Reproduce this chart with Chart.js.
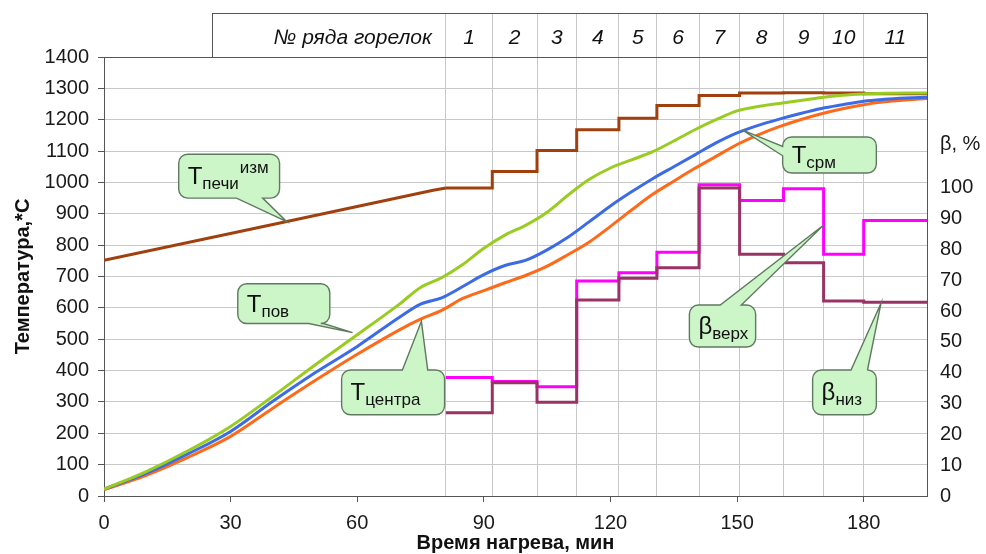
<!DOCTYPE html>
<html>
<head>
<meta charset="utf-8">
<script src="https://cdn.jsdelivr.net/npm/chart.js@4.4.1/dist/chart.umd.min.js"></script>
<style>
  html, body { margin: 0; padding: 0; background: #fff; }
  #wrap { width: 986px; height: 554px; position: relative; }
</style>
</head>
<body>
<div id="wrap"><canvas id="heatChart"></canvas></div>
<script>
// === Данные нагрева ===
const timeMin = [0, 10, 20, 30, 40, 50, 60, 70, 75, 80, 85, 90, 95, 100, 105, 110, 115, 120, 125, 130, 135, 140, 145, 150, 155, 160, 165, 170, 175, 180, 185, 190, 195];
const tPov    = [22, 78, 145, 222, 318, 418, 514, 612, 665, 696, 738, 790, 832, 864, 905, 960, 1010, 1046, 1072, 1098, 1132, 1168, 1200, 1228, 1242, 1252, 1261, 1271, 1278, 1282, 1284, 1285, 1285];
const tSrm    = [22, 72, 135, 206, 302, 393, 477, 570, 612, 632, 668, 706, 735, 752, 785, 826, 875, 925, 970, 1012, 1050, 1088, 1126, 1158, 1182, 1202, 1220, 1236, 1248, 1259, 1265, 1269, 1272];
const tCentra = [20, 66, 124, 190, 280, 368, 452, 530, 564, 592, 630, 655, 680, 704, 733, 770, 810, 860, 912, 962, 1004, 1045, 1083, 1121, 1152, 1178, 1200, 1219, 1235, 1248, 1257, 1263, 1268];

// печь до первого ряда горелок
const furnaceTime = [0, 40, 78, 81];
const furnaceTemp = [752, 866, 975, 982];

// ряды горелок: границы по времени, номера, уровни
const rowBounds = [81, 92, 102.6, 112, 122, 131, 141, 150.6, 161, 170.5, 180, 195];
const rowLabels = ['1', '2', '3', '4', '5', '6', '7', '8', '9', '10', '11'];
const furnaceRowTemp = [982, 1035, 1102, 1168, 1205, 1245, 1277, 1285, 1286, 1285, 1283];
const betaUpper = [38.5, 37.2, 35.5, 69.8, 72.5, 79.1, 101, 95.9, 99.7, 78.5, 89.4];
const betaLower = [27, 36.8, 30.4, 63.6, 70.7, 74.1, 100, 78.5, 75.7, 63.3, 62.9];

const xTicks = [0, 30, 60, 90, 120, 150, 180];
const betaTicks = [0, 10, 20, 30, 40, 50, 60, 70, 80, 90, 100];
const betaTitlePos = 114;

const FONT = "'Liberation Sans', Arial, sans-serif";
Chart.defaults.font.family = FONT;
Chart.defaults.color = '#1a1a1a';

function curve(vals) {
  return timeMin.map((t, i) => ({ x: t, y: vals[i] }));
}
function steps(levels) {
  return rowBounds.map((t, i) => ({ x: t, y: levels[Math.min(i, levels.length - 1)] }));
}

// === Выноски ===
const callouts = [
  { main: 'T', sub: 'печи', sup: 'изм', box: [17.7, 41.6, 1090, 950], side: 'bottom', base: [31.4, 37.6], tip: [43.3, 875] },
  { main: 'T', sub: 'пов', box: [31.7, 53.5, 677, 550], side: 'bottom', base: [48.5, 52], tip: [58.9, 521] },
  { main: 'T', sub: 'центра', box: [56.3, 80.7, 402, 259], side: 'top', base: [70.7, 76.7], tip: [75.2, 557] },
  { main: 'T', sub: 'срм', box: [160.8, 183, 1145, 1030], side: 'left', base: [1115, 1085], tip: [151.3, 1167] },
  { main: 'β', sub: 'верх', box: [138.7, 154.4, 609, 475], side: 'top', base: [146, 151], tip: [170.6, 865] },
  { main: 'β', sub: 'низ', box: [167.9, 183, 402, 259], side: 'top', base: [177, 180.9], tip: [184.1, 615] }
];

function calloutPath(ctx, x1, y1, x2, y2, r, side, a, b, tx, ty) {
  const lo = Math.min(a, b), hi = Math.max(a, b);
  ctx.beginPath();
  ctx.moveTo(x1 + r, y1);
  if (side === 'top') { ctx.lineTo(lo, y1); ctx.lineTo(tx, ty); ctx.lineTo(hi, y1); }
  ctx.lineTo(x2 - r, y1);
  ctx.arcTo(x2, y1, x2, y1 + r, r);
  if (side === 'right') { ctx.lineTo(x2, lo); ctx.lineTo(tx, ty); ctx.lineTo(x2, hi); }
  ctx.lineTo(x2, y2 - r);
  ctx.arcTo(x2, y2, x2 - r, y2, r);
  if (side === 'bottom') { ctx.lineTo(hi, y2); ctx.lineTo(tx, ty); ctx.lineTo(lo, y2); }
  ctx.lineTo(x1 + r, y2);
  ctx.arcTo(x1, y2, x1, y2 - r, r);
  if (side === 'left') { ctx.lineTo(x1, hi); ctx.lineTo(tx, ty); ctx.lineTo(x1, lo); }
  ctx.lineTo(x1, y1 + r);
  ctx.arcTo(x1, y1, x1 + r, y1, r);
  ctx.closePath();
}

const calloutPlugin = {
  id: 'callouts',
  afterDatasetsDraw(chart) {
    const ctx = chart.ctx, xs = chart.scales.x, ys = chart.scales.y;
    ctx.save();
    callouts.forEach(c => {
      const x1 = xs.getPixelForValue(c.box[0]), x2 = xs.getPixelForValue(c.box[1]);
      const y1 = ys.getPixelForValue(c.box[2]), y2 = ys.getPixelForValue(c.box[3]);
      const horiz = c.side === 'top' || c.side === 'bottom';
      const a = horiz ? xs.getPixelForValue(c.base[0]) : ys.getPixelForValue(c.base[0]);
      const b = horiz ? xs.getPixelForValue(c.base[1]) : ys.getPixelForValue(c.base[1]);
      calloutPath(ctx, x1, y1, x2, y2, 9, c.side, a, b,
        xs.getPixelForValue(c.tip[0]), ys.getPixelForValue(c.tip[1]));
      ctx.fillStyle = '#ccf5c8';
      ctx.fill();
      ctx.strokeStyle = '#5f7a5f';
      ctx.lineWidth = 1.4;
      ctx.stroke();

      const base = (y1 + y2) / 2 + 8;
      let tx = x1 + 9;
      ctx.fillStyle = '#111';
      ctx.textBaseline = 'alphabetic';
      ctx.textAlign = 'left';
      ctx.font = '24px ' + FONT;
      ctx.fillText(c.main, tx, base);
      tx += ctx.measureText(c.main).width;
      ctx.font = '17px ' + FONT;
      ctx.fillText(c.sub, tx, base + 5);
      tx += ctx.measureText(c.sub).width;
      if (c.sup) ctx.fillText(c.sup, tx + 1, base - 11);
    });
    ctx.restore();
  }
};

// === Шапка: № ряда горелок ===
const headerPlugin = {
  id: 'burnerHeader',
  afterDraw(chart) {
    const ctx = chart.ctx, xs = chart.scales.xRows, area = chart.chartArea;
    const top = area.top - 44, left = 212;
    ctx.save();
    ctx.strokeStyle = '#555';
    ctx.lineWidth = 1;
    ctx.strokeRect(left + 0.5, top + 0.5, area.right - left, 44);
    ctx.fillStyle = '#111';
    ctx.textBaseline = 'middle';
    ctx.font = 'italic 21px ' + FONT;
    ctx.textAlign = 'right';
    ctx.fillText('№ ряда горелок', xs.getPixelForValue(rowBounds[0]) - 14, top + 25);
    ctx.textAlign = 'center';
    rowLabels.forEach((lab, i) => {
      const xm = (xs.getPixelForValue(rowBounds[i]) + xs.getPixelForValue(rowBounds[i + 1])) / 2;
      ctx.fillText(lab, xm, top + 25);
    });
    ctx.restore();
  }
};

const lineBase = { pointRadius: 0, fill: false, borderWidth: 3 };

const ctx = document.getElementById('heatChart').getContext('2d');
const heatChart = new Chart(ctx, {
  type: 'line',
  data: {
    datasets: [
      Object.assign({ label: 'βниз', data: steps(betaLower), yAxisID: 'yBeta', stepped: 'before', borderColor: '#993366' }, lineBase),
      Object.assign({ label: 'βверх', data: steps(betaUpper), yAxisID: 'yBeta', stepped: 'before', borderColor: '#ff00ff' }, lineBase),
      Object.assign({ label: 'Tпов', data: curve(tPov), borderColor: '#99cc22', cubicInterpolationMode: 'monotone' }, lineBase),
      Object.assign({ label: 'Tсрм', data: curve(tSrm), borderColor: '#3d6be6', cubicInterpolationMode: 'monotone' }, lineBase),
      Object.assign({ label: 'Tцентра', data: curve(tCentra), borderColor: '#ff6a1a', cubicInterpolationMode: 'monotone' }, lineBase),
      Object.assign({ label: 'Tпечи', data: furnaceTime.map((t, i) => ({ x: t, y: furnaceTemp[i] })), borderColor: '#a0400f' }, lineBase),
      Object.assign({ label: 'Tпечи ряды', data: steps(furnaceRowTemp), stepped: 'before', borderColor: '#a0400f' }, lineBase)
    ]
  },
  options: {
    responsive: true,
    maintainAspectRatio: false,
    animation: false,
    layout: { padding: { top: 13, left: 0, right: 0, bottom: 0 } },
    plugins: {
      legend: { display: false },
      tooltip: { enabled: false }
    },
    scales: {
      x: {
        type: 'linear', position: 'bottom', min: 0, max: 195,
        afterBuildTicks: s => { s.ticks = xTicks.map(v => ({ value: v })); },
        afterFit: s => { s.height = 58; },
        grid: { drawOnChartArea: false, drawTicks: true, tickLength: 6, tickColor: '#555' },
        border: { color: '#555' },
        ticks: { font: { size: 20 }, padding: 9, color: '#1a1a1a', callback: v => String(v) },
        title: { display: true, text: 'Время нагрева, мин', font: { size: 20, weight: 'bold', lineHeight: 1.1 }, padding: 0, color: '#111' }
      },
      xRows: {
        type: 'linear', position: 'top', min: 0, max: 195,
        afterBuildTicks: s => { s.ticks = rowBounds.slice(0, -1).map(v => ({ value: v })); },
        afterFit: s => { s.height = 44; },
        grid: { color: '#c8c8c8', drawTicks: true, tickLength: 44, tickColor: '#c8c8c8' },
        border: { color: '#555' },
        ticks: { display: false }
      },
      y: {
        position: 'left', min: 0, max: 1400,
        afterFit: s => { s.width = 104; },
        grid: { color: '#c8c8c8', tickLength: 6, tickColor: '#555' },
        border: { color: '#555' },
        ticks: { stepSize: 100, font: { size: 20 }, padding: 9, color: '#1a1a1a', callback: v => String(v) },
        title: { display: true, text: 'Температура,*С', font: { size: 20, weight: 'bold', lineHeight: 1.2 }, padding: { top: 11, bottom: 0 }, color: '#111' }
      },
      yBeta: {
        position: 'right', min: 0, max: 142.5,
        afterBuildTicks: s => { s.ticks = betaTicks.concat([betaTitlePos]).map(v => ({ value: v })); },
        afterFit: s => { s.width = 59; },
        grid: { drawOnChartArea: false, drawTicks: false },
        border: { color: '#555' },
        ticks: {
          font: { size: 20 }, padding: 13, color: '#1a1a1a',
          callback: v => (v === betaTitlePos ? 'β, %' : String(v))
        }
      }
    }
  },
  plugins: [calloutPlugin, headerPlugin]
});
</script>
</body>
</html>
